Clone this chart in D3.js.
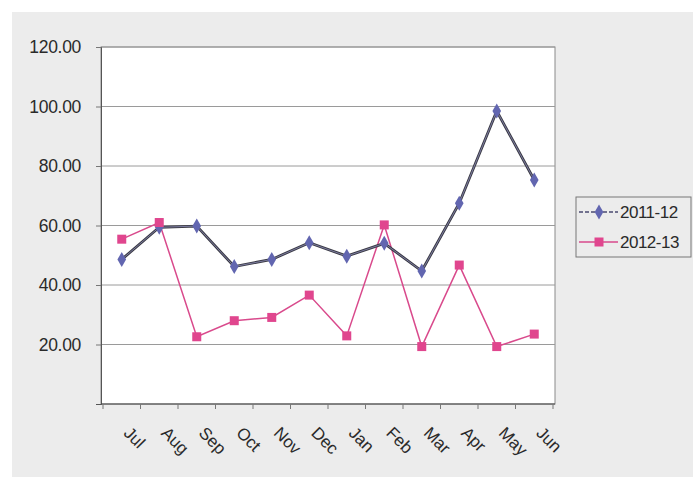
<!DOCTYPE html>
<html><head><meta charset="utf-8">
<script src="https://cdn.jsdelivr.net/npm/d3@7"></script>
<style>body{margin:0;background:#fff}svg{display:block}text{font-family:Arial,"Liberation Sans",sans-serif}</style>
</head><body><svg id="c" width="693" height="477"></svg>
<script>
const months = ["Jul","Aug","Sep","Oct","Nov","Dec","Jan","Feb","Mar","Apr","May","Jun"];
const series2011 = [48.6,59.4,59.8,46.2,48.6,54.2,49.7,54.0,44.7,67.5,98.5,75.3];
const series2012 = [55.4,61.0,22.6,28.0,29.1,36.6,22.9,60.2,19.3,46.7,19.3,23.5];
const seriesNames = ["2011-12","2012-13"];
const yTicks = [20,40,60,80,100,120];

(function(){
const svg = d3.select("#c");
svg.append("rect").attr("x",12).attr("y",12).attr("width",681).attr("height",465).attr("fill","#ececec");

const pL=101, pR=555, pT=47, pB=404;
svg.append("rect").attr("x",pL).attr("y",pT).attr("width",pR-pL).attr("height",pB-pT)
  .attr("fill","#fff").attr("stroke","#8a8a8a").attr("stroke-width",1);

const x = d3.scalePoint().domain(months).range([103,553]).padding(0.5);
const y = d3.scaleLinear().domain([0,120]).range([pB,pT]);

svg.append("g").selectAll("line").data(yTicks).join("line")
  .attr("x1",pL).attr("x2",pR).attr("y1",d=>y(d)).attr("y2",d=>y(d))
  .attr("stroke","#9a9a9a").attr("stroke-width",1);

const ya = svg.append("g").attr("transform",`translate(${pL},0)`)
  .call(d3.axisLeft(y).tickValues(yTicks).tickSize(5).tickPadding(15).tickFormat(d3.format(".2f")));
ya.select(".domain").attr("stroke","#555");
ya.selectAll(".tick line").attr("stroke","#777");
ya.selectAll("text").attr("font-size",17.5).attr("fill","#2a2a2a").attr("letter-spacing","-0.3")
  .attr("font-family","Arial, 'Liberation Sans', sans-serif");

const xa = svg.append("g").attr("transform",`translate(0,${pB})`);
xa.append("line").attr("x1",pL).attr("x2",pR).attr("y1",0).attr("y2",0).attr("stroke","#444").attr("stroke-width",1.2);
const step = x.step();
const tickPos = d3.range(months.length+1).map(i => x(months[0]) - step/2 + i*step);
xa.selectAll("line.t").data(tickPos).join("line").attr("class","t")
  .attr("x1",d=>d).attr("x2",d=>d).attr("y1",0).attr("y2",5).attr("stroke","#777");
xa.selectAll("text").data(months).join("text")
  .attr("transform",d=>`translate(${x(d)+1},${30}) rotate(45)`)
  .attr("font-size",17).attr("fill","#2a2a2a").text(d=>d);

const line = d3.line().x((d,i)=>x(months[i])).y(d=>y(d));
svg.append("path").datum(series2012).attr("d",line).attr("fill","none").attr("stroke","#d94a8c").attr("stroke-width",1.5);
svg.append("path").datum(series2011).attr("d",line).attr("fill","none").attr("stroke","#3a3a44").attr("stroke-width",2.8);
svg.append("path").datum(series2011).attr("d",line).attr("fill","none").attr("stroke","#8d8db8").attr("stroke-width",0.8);

const diamond = d3.symbol().type(d3.symbolDiamond).size(65);
svg.append("g").selectAll("path").data(series2011).join("path")
  .attr("transform",(d,i)=>`translate(${x(months[i])},${y(d)})`).attr("d",diamond).attr("fill","#6266b0");
svg.append("g").selectAll("rect").data(series2012).join("rect")
  .attr("x",(d,i)=>x(months[i])-4.5).attr("y",d=>y(d)-4.5).attr("width",9).attr("height",9).attr("fill","#e0468e");

const lg = svg.append("g");
lg.append("rect").attr("x",576).attr("y",197).attr("width",115).attr("height",60).attr("fill","#ececec").attr("stroke","#777");
const ly = [212,242];
const colors = ["#6266b0","#e0468e"];
seriesNames.forEach((n,i)=>{
  const g = lg.append("g");
  g.append("line").attr("x1",579).attr("x2",618).attr("y1",ly[i]).attr("y2",ly[i])
    .attr("stroke",i===0?"#4a4a70":"#d94a8c").attr("stroke-width",1.5).attr("stroke-dasharray",i===0?"4,2":null);
  if(i===0) g.append("path").attr("transform",`translate(599,${ly[i]})`).attr("d",diamond).attr("fill",colors[i]);
  else g.append("rect").attr("x",594.5).attr("y",ly[i]-4.5).attr("width",9).attr("height",9).attr("fill",colors[i]);
  g.append("text").attr("x",620).attr("y",ly[i]+6).attr("font-size",17).attr("letter-spacing","-0.5").attr("fill","#2a2a2a").text(n);
});
})();
</script></body></html>
